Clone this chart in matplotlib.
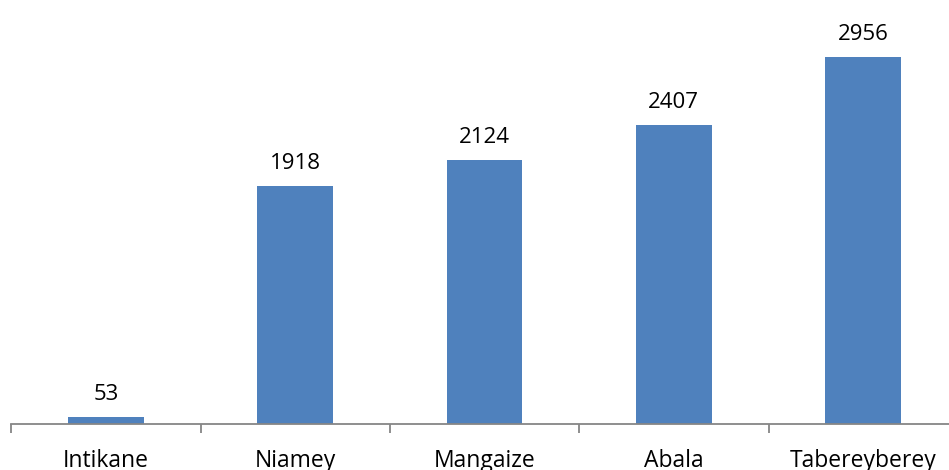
import matplotlib.pyplot as plt
import numpy as np

plt.rcParams["font.family"] = ["Open Sans", "DejaVu Sans"]

categories = ["Intikane", "Niamey", "Mangaize", "Abala", "Tabereyberey"]
values = [53, 1918, 2124, 2407, 2956]

DPI = 100
fig = plt.figure(figsize=(9.49, 4.70), dpi=DPI)
ax = fig.add_axes([11.3 / 949, 46.5 / 470, 946.5 / 949, 423.5 / 470])

x = np.arange(len(categories))
ax.bar(x, values, width=0.40, color="#4F81BD")
ax.set_xlim(-0.5, len(categories) - 0.5)
ax.set_ylim(0, 3419)

for xi, v in zip(x, values):
    ax.annotate(str(v), (xi, v), xytext=(0, 12.2), textcoords="offset points",
                ha="center", va="baseline", fontsize=16, color="black")

for side in ("top", "right", "left"):
    ax.spines[side].set_visible(False)
ax.spines["bottom"].set_color("#868686")
ax.spines["bottom"].set_linewidth(1.3)
ax.set_yticks([])

# ticks sit on category boundaries, labels at centres
ax.set_xticks(np.arange(len(categories) + 1) - 0.5)
ax.set_xticklabels([])
ax.tick_params(axis="x", length=6.5, width=1.3, color="#868686", direction="out")
for xi, name in zip(x, categories):
    ax.annotate(name, (xi, 0), xytext=(0, -31.3), textcoords="offset points",
                ha="center", va="baseline", fontsize=16.5, color="black",
                annotation_clip=False)

fig.savefig("out.png", dpi=DPI)
